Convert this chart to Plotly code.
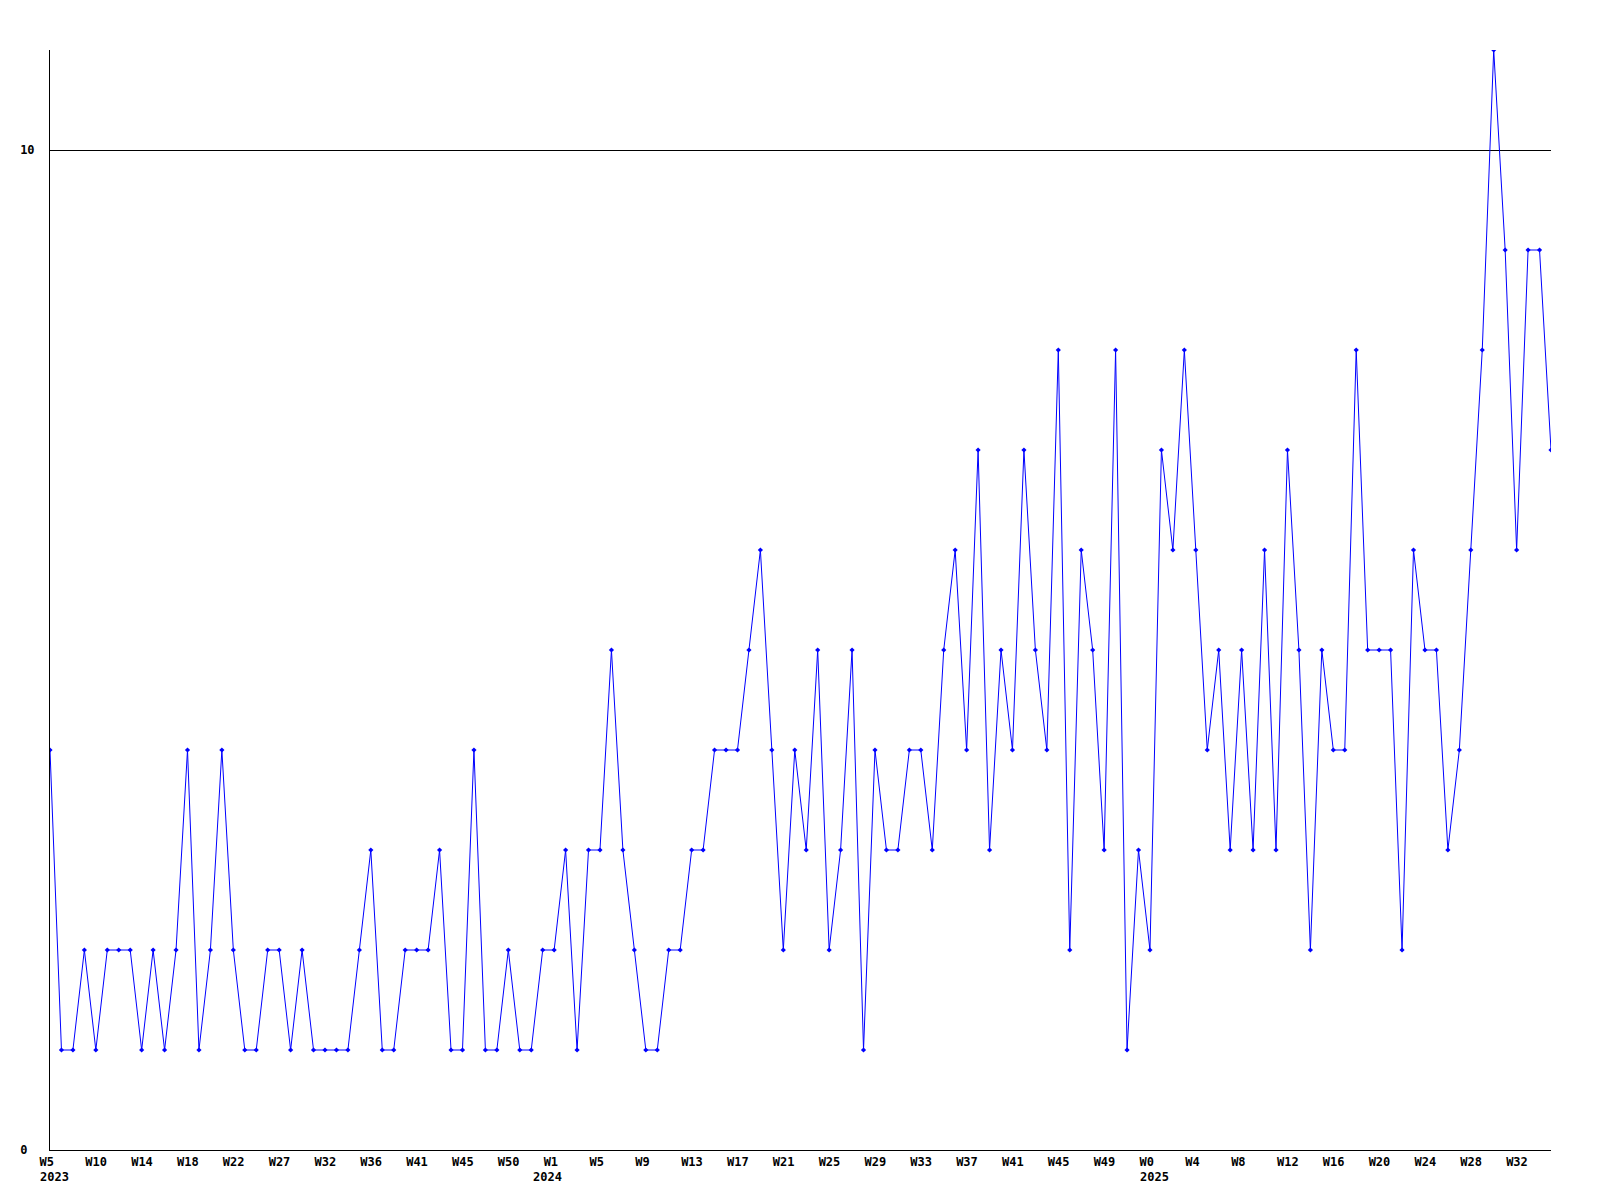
import plotly.graph_objects as go

# Weekly values (one point per week)
values = [4, 1, 1, 2, 1, 2, 2, 2, 1, 2, 1, 2, 4, 1, 2, 4, 2, 1, 1, 2, 2, 1, 2,
          1, 1, 1, 1, 2, 3, 1, 1, 2, 2, 2, 3, 1, 1, 4, 1, 1, 2, 1, 1, 2, 2, 3,
          1, 3, 3, 5, 3, 2, 1, 1, 2, 2, 3, 3, 4, 4, 4, 5, 6, 4, 2, 4, 3, 5, 2,
          3, 5, 1, 4, 3, 3, 4, 4, 3, 5, 6, 4, 7, 3, 5, 4, 7, 5, 4, 8, 2, 6,
          5, 3, 8, 1, 3, 2, 7, 6, 8, 6, 4, 5, 3, 5, 3, 6, 3, 7, 5, 2, 5, 4, 4,
          8, 5, 5, 5, 2, 6, 5, 5, 3, 4, 6, 8, 11, 9, 6, 9, 9, 7]

# Tick labels, one every 4 points
week_labels = ["W5", "W10", "W14", "W18", "W22", "W27", "W32", "W36", "W41", "W45", "W50",
               "W1", "W5", "W9", "W13", "W17", "W21", "W25", "W29", "W33", "W37", "W41",
               "W45", "W49", "W0", "W4", "W8", "W12", "W16", "W20", "W24", "W28", "W32"]
# year label -> index of the week label it sits under
year_labels = {"2023": 0, "2024": 11, "2025": 24}
year_shift = {"2023": -12, "2024": -23, "2025": -12}
label_step = 4

y_tickvals = [0, 10]
y_ticktext = ["0\u00a0", "10"]

x = list(range(len(values)))
tickvals = [i * label_step for i in range(len(week_labels))]

font = dict(family="DejaVu Sans Mono", size=12, color="black", weight="bold")

fig = go.Figure()
fig.add_trace(go.Scatter(
    x=x, y=values, mode="lines+markers",
    line=dict(color="#0000FF", width=1),
    marker=dict(color="#0000FF", size=4, symbol="diamond"),
    hoverinfo="skip",
))

for year, li in year_labels.items():
    fig.add_annotation(
        x=li * label_step, xref="x", y=0, yref="paper",
        text=year, showarrow=False, font=font,
        xanchor="left", yanchor="top",
        xshift=year_shift[year], yshift=-18,
    )

fig.update_layout(
    width=1584, height=1184,
    margin=dict(l=42, r=41, t=42, b=42),
    paper_bgcolor="white", plot_bgcolor="white",
    showlegend=False,
    font=font,
)
fig.update_xaxes(
    range=[0, len(values) - 1],
    tickmode="array", tickvals=tickvals, ticktext=week_labels,
    showgrid=False, zeroline=False,
    showline=True, linecolor="black", linewidth=1,
    ticks="", tickfont=font, automargin=False,
    ticklabelposition="outside right", ticklabelshift=-11,
    ticklabelstandoff=1,
)
fig.update_yaxes(
    range=[0, 11],
    tickmode="array", tickvals=y_tickvals, ticktext=y_ticktext,
    showgrid=True, gridcolor="black", gridwidth=1,
    zeroline=False, automargin=False,
    showline=True, linecolor="black", linewidth=1,
    ticks="", tickfont=font, ticklabelstandoff=12,
)

fig.write_html("out.html")
